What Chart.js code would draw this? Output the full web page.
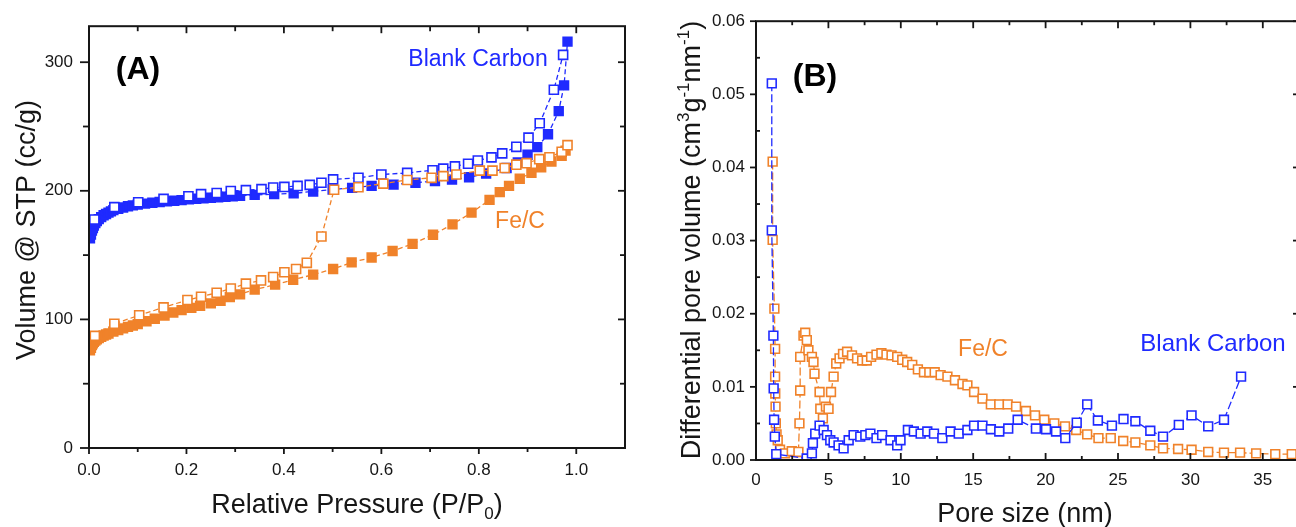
<!DOCTYPE html>
<html>
<head>
<meta charset="utf-8">
<script src="https://cdn.jsdelivr.net/npm/chart.js@4.4.1/dist/chart.umd.min.js"></script>
<style>
  html, body { margin: 0; padding: 0; background: #fff; overflow: hidden; width: 1296px; height: 527px; }
  #wrapA { position: absolute; left: 0; top: 0; width: 650px; height: 527px; }
  #wrapB { position: absolute; left: 650px; top: 0; width: 660px; height: 527px; }
</style>
</head>
<body>
<div id="wrapA"><canvas id="isotherm" width="650" height="527"></canvas></div>
<div id="wrapB"><canvas id="poreDist" width="660" height="527"></canvas></div>
<script>
// ---------- (A) N2 sorption isotherms ----------
const pressureBlankAds = [0.002,0.004,0.006,0.008,0.010,0.013,0.016,0.020,0.025,0.030,0.035,0.040,0.045,0.050,0.060,0.070,0.080,0.090,0.100,0.115,0.130,0.145,0.160,0.175,0.190,0.205,0.220,0.235,0.250,0.265,0.280,0.295,0.310,0.340,0.380,0.420,0.460,0.500,0.540,0.580,0.625,0.670,0.710,0.745,0.780,0.815,0.857,0.880,0.900,0.920,0.942,0.964,0.975,0.982];
const volumeBlankAds   = [163,166,169,171,173,175,176.5,178,179.5,181,182,183,184,185,186,187,188,188.7,189.3,190,190.7,191.3,191.8,192.3,192.8,193.3,193.8,194.2,194.6,195,195.4,195.8,196.2,196.8,197.4,198,199.5,201,202.3,203.8,204.8,206.3,207.5,208.7,210.5,213.5,217.7,222,228,234,244,262,282,316];

const pressureBlankDes = [0.011,0.052,0.101,0.153,0.204,0.230,0.262,0.291,0.322,0.354,0.378,0.401,0.428,0.453,0.477,0.501,0.553,0.600,0.653,0.705,0.727,0.751,0.778,0.798,0.826,0.848,0.877,0.902,0.925,0.954,0.973];
const volumeBlankDes   = [177.7,187.3,191.1,193.7,195.7,197.4,198.3,199.8,200.5,201.3,202.5,203,203.8,204.6,206.3,208.9,210.1,212.7,213.9,216,217.2,219,221,223.6,226,229.1,234.2,241.3,252.5,278.6,305.7];

const pressureFeAds = [0.002,0.004,0.006,0.008,0.010,0.013,0.016,0.020,0.025,0.030,0.035,0.040,0.050,0.060,0.070,0.080,0.090,0.100,0.118,0.135,0.155,0.173,0.190,0.210,0.228,0.250,0.270,0.289,0.310,0.340,0.382,0.419,0.460,0.501,0.539,0.580,0.623,0.664,0.706,0.746,0.785,0.822,0.843,0.862,0.884,0.908,0.928,0.949,0.970,0.978];
const volumeFeAds   = [76,78,80,81.5,82.5,83.5,84.5,85.5,86.5,87.5,88.3,89,90.5,91.8,93,94.2,95.3,96.3,98.6,100.5,103,105.4,107.2,109,110.5,112.5,114.5,117.3,119.5,123.2,127,130.8,134.8,139.2,144.3,148.1,153.2,158.7,165.8,173.9,183,192.9,199,203.8,209.4,214,218.3,222.8,227.3,231.2];

const pressureFeDes = [0.012,0.052,0.103,0.153,0.202,0.230,0.262,0.291,0.322,0.353,0.378,0.401,0.425,0.447,0.477,0.503,0.553,0.604,0.653,0.703,0.727,0.754,0.802,0.828,0.853,0.877,0.898,0.924,0.945,0.970,0.982];
const volumeFeDes   = [87.2,96.6,103.2,109.3,115.1,117.6,120.7,124,127.8,130.3,132.9,136.7,139.2,144,164.5,200.8,202.8,205.6,208.4,210.1,211.4,212.7,215.7,215.7,217.7,220.3,221.5,224.6,226.1,230.4,235.5];

const pressureTicks = [0, 0.2, 0.4, 0.6, 0.8, 1.0];
const pressureMinor = [0.1, 0.3, 0.5, 0.7, 0.9];
const volumeTicks   = [0, 100, 200, 300];
const volumeMinor   = [50, 150, 250];

// ---------- (B) pore size distributions ----------
const poreBlank = [1.09,1.09,1.2,1.22,1.25,1.3,1.4,3.5,3.86,3.93,4.09,4.39,4.67,4.9,5.13,5.36,5.7,6.05,6.4,6.74,7.2,7.55,7.9,8.32,8.71,9.29,9.75,9.98,10.49,10.9,11.37,11.83,12.29,12.87,13.44,14.0,14.6,15.06,15.64,16.22,16.8,17.42,18.07,19.33,20.03,20.72,21.36,22.15,22.87,23.61,24.58,25.38,26.2,27.23,28.11,29.2,30.08,31.23,32.32,33.5];
const dvBlank   = [0.0515,0.0314,0.0170,0.0098,0.0055,0.0032,0.0008,0.0002,0.0009,0.0023,0.0036,0.0047,0.0041,0.0034,0.0027,0.0024,0.0020,0.0016,0.0027,0.0034,0.0032,0.0034,0.0036,0.0030,0.0034,0.0027,0.0020,0.0027,0.0041,0.0039,0.0036,0.0039,0.0036,0.0030,0.0039,0.0036,0.0041,0.0047,0.0047,0.0042,0.0039,0.0043,0.0055,0.0043,0.0042,0.0039,0.0030,0.0051,0.0076,0.0054,0.0047,0.0056,0.0053,0.0040,0.0032,0.0048,0.0061,0.0046,0.0055,0.0114];

const poreFe = [1.15,1.15,1.27,1.32,1.32,1.33,1.35,1.37,1.42,1.5,1.66,2.0,2.47,2.93,3.0,3.05,3.05,3.28,3.4,3.51,3.62,3.86,3.97,4.04,4.39,4.44,4.62,4.83,5.01,5.18,5.36,5.54,5.77,6.01,6.29,6.63,6.98,7.33,7.65,7.95,8.32,8.66,9.01,9.36,9.75,10.1,10.44,10.79,11.18,11.6,11.97,12.34,12.75,13.22,13.74,14.26,14.6,15.06,15.64,16.22,16.8,17.38,17.96,18.64,19.27,19.91,20.6,21.34,22.11,22.87,23.65,24.5,25.36,26.2,27.23,28.11,29.15,30.08,31.23,32.32,33.43,34.54,35.86,37.0];
const dvFe   = [0.0408,0.0301,0.0207,0.0152,0.0114,0.0091,0.0073,0.0050,0.0035,0.0027,0.0014,0.0009,0.0012,0.0011,0.0050,0.0095,0.0141,0.0170,0.0174,0.0164,0.0150,0.0141,0.0134,0.0118,0.0093,0.0070,0.0057,0.0073,0.0070,0.0093,0.0114,0.0132,0.0139,0.0145,0.0148,0.0143,0.0139,0.0136,0.0136,0.0141,0.0144,0.0146,0.0144,0.0143,0.0141,0.0137,0.0134,0.0130,0.0124,0.0120,0.0120,0.0120,0.0116,0.0114,0.0109,0.0104,0.0102,0.0093,0.0084,0.0076,0.0076,0.0076,0.0073,0.0067,0.0061,0.0055,0.0050,0.0046,0.0041,0.0035,0.0030,0.0030,0.0026,0.0024,0.0020,0.0016,0.0015,0.0014,0.0011,0.0010,0.0010,0.0009,0.0008,0.0008];

const poreTicks = [0, 5, 10, 15, 20, 25, 30, 35];
const poreMinor = [2.5, 7.5, 12.5, 17.5, 22.5, 27.5, 32.5];
const dvTicks   = [0, 0.01, 0.02, 0.03, 0.04, 0.05, 0.06];
const dvMinor   = [0.005, 0.015, 0.025, 0.035, 0.045, 0.055];

// ---------- styling ----------
const BLUE = '#1f2aff';
const ORANGE = '#f0822a';
const INK = '#161616';
const FONT = '"Liberation Sans", Arial, Helvetica, sans-serif';

const pts = (xs, ys) => xs.map((x, i) => ({ x, y: ys[i] }));

function series(label, xs, ys, color, filled, dash, radius) {
  return {
    label,
    data: pts(xs, ys),
    showLine: true,
    borderColor: color,
    borderWidth: 1.3,
    borderDash: dash,
    pointStyle: 'rect',
    pointRadius: radius,
    pointBorderWidth: 1.6,
    pointBorderColor: color,
    pointBackgroundColor: filled ? color : '#ffffff',
    tension: 0
  };
}

// rich text: array of {t, sub, sup, bold}, centred on (x, y) baseline, optionally rotated
function drawRich(ctx, parts, x, y, size, rotated, color) {
  ctx.save();
  ctx.translate(x, y);
  if (rotated) ctx.rotate(-Math.PI / 2);
  ctx.fillStyle = color || INK;
  ctx.textBaseline = 'alphabetic';
  ctx.textAlign = 'left';
  const fontOf = p => `${p.bold ? 'bold ' : ''}${(p.sub || p.sup) ? Math.round(size * 0.62) : size}px ${FONT}`;
  const widths = parts.map(p => { ctx.font = fontOf(p); return ctx.measureText(p.t).width; });
  let cx = -widths.reduce((a, b) => a + b, 0) / 2;
  parts.forEach((p, i) => {
    ctx.font = fontOf(p);
    const dy = p.sub ? size * 0.22 : p.sup ? -size * 0.4 : 0;
    ctx.fillText(p.t, cx, dy);
    cx += widths[i];
  });
  ctx.restore();
}

// box frame with major/minor tick marks on all four sides
function framePlugin(spec) {
  return {
    id: 'frame',
    afterDatasetsDraw(chart) {
      const { ctx, chartArea: a } = chart;
      const xs = chart.scales.x, ys = chart.scales.y;
      ctx.save();
      ctx.strokeStyle = INK;
      ctx.lineWidth = 2;
      ctx.strokeRect(a.left, a.top, a.right - a.left, a.bottom - a.top);
      ctx.lineWidth = 1.8;
      const line = (x0, y0, x1, y1) => { ctx.beginPath(); ctx.moveTo(x0, y0); ctx.lineTo(x1, y1); ctx.stroke(); };
      const marks = (side, vals, len, out) => {
        const sign = out ? 1 : -1;
        vals.forEach(v => {
          if (side === 'left' || side === 'right') {
            const p = ys.getPixelForValue(v);
            if (side === 'left') line(a.left, p, a.left - sign * len, p);
            else line(a.right, p, a.right + sign * len, p);
          } else {
            const p = xs.getPixelForValue(v);
            if (side === 'bottom') line(p, a.bottom, p, a.bottom + sign * len);
            else line(p, a.top, p, a.top - sign * len);
          }
        });
      };
      Object.entries(spec.sides).forEach(([side, s]) => {
        const vertical = side === 'left' || side === 'right';
        const major = vertical ? spec.yMajor : spec.xMajor;
        const minor = vertical ? spec.yMinor : spec.xMinor;
        marks(side, major, s.major, s.out);
        marks(side, minor, s.minor, s.minorOut !== undefined ? s.minorOut : s.out);
      });
      ctx.restore();
    }
  };
}

function textPlugin(drawFn) {
  return { id: 'annotText', afterDraw(chart) { drawFn(chart.ctx); } };
}

function axisScale(min, max, tickVals, fmt, padding, fitFn) {
  return {
    type: 'linear',
    min, max,
    afterBuildTicks: s => { s.ticks = tickVals.map(v => ({ value: v })); },
    afterFit: fitFn,
    grid: { display: false, drawTicks: false },
    border: { display: false },
    ticks: { padding, color: INK, font: { family: FONT, size: 17 }, callback: fmt }
  };
}

const baseOptions = {
  responsive: false,
  animation: false,
  events: [],
  plugins: { legend: { display: false }, tooltip: { enabled: false } }
};

// ----- chart A -----
new Chart(document.getElementById('isotherm'), {
  type: 'scatter',
  data: {
    datasets: [
      series('Fe/C desorption', pressureFeDes, volumeFeDes, ORANGE, false, [5, 3], 6.4),
      series('Fe/C adsorption', pressureFeAds, volumeFeAds, ORANGE, true, [5, 3], 6.2),
      series('Blank Carbon desorption', pressureBlankDes, volumeBlankDes, BLUE, false, [5, 3], 6.4),
      series('Blank Carbon adsorption', pressureBlankAds, volumeBlankAds, BLUE, true, [5, 3], 6.2)
    ]
  },
  options: {
    ...baseOptions,
    layout: { padding: { left: 0, top: 16, right: 25, bottom: 0 } },
    scales: {
      x: axisScale(0, 1.1, pressureTicks, v => v.toFixed(1), 12, s => { s.height = 79; }),
      y: axisScale(0, 328, volumeTicks, v => String(v), 16, s => { s.width = 89; })
    }
  },
  plugins: [
    framePlugin({
      xMajor: pressureTicks, xMinor: pressureMinor, yMajor: volumeTicks, yMinor: volumeMinor,
      sides: {
        left: { out: true, major: 9, minor: 6 },
        right: { out: false, major: 7, minor: 5 },
        top: { out: false, major: 7, minor: 5 },
        bottom: { out: true, major: 6, minor: 4 }
      }
    }),
    textPlugin(ctx => {
      drawRich(ctx, [{ t: '(A)', bold: true }], 138, 79, 32, false, '#000');
      drawRich(ctx, [{ t: 'Blank Carbon' }], 478, 66, 23, false, BLUE);
      drawRich(ctx, [{ t: 'Fe/C' }], 520, 228, 23, false, ORANGE);
      drawRich(ctx, [{ t: 'Volume @ STP (cc/g)' }], 35, 230, 27, true);
      drawRich(ctx, [{ t: 'Relative Pressure (P/P' }, { t: '0', sub: true }, { t: ')' }], 357, 513, 27, false);
    })
  ]
});

// ----- chart B -----
new Chart(document.getElementById('poreDist'), {
  type: 'scatter',
  data: {
    datasets: [
      series('Blank Carbon', poreBlank, dvBlank, BLUE, false, [8, 3], 6.2),
      series('Fe/C', poreFe, dvFe, ORANGE, false, [8, 3], 6.2)
    ]
  },
  options: {
    ...baseOptions,
    layout: { padding: { left: 0, top: 21, right: 11, bottom: 0 } },
    scales: {
      x: axisScale(0, 37.5, poreTicks, v => String(v), 10, s => { s.height = 67; }),
      y: axisScale(0, 0.06, dvTicks, v => v.toFixed(2), 11, s => { s.width = 106; })
    }
  },
  plugins: [
    framePlugin({
      xMajor: poreTicks, xMinor: poreMinor, yMajor: dvTicks, yMinor: dvMinor,
      sides: {
        left: { out: true, major: 6, minor: 4, minorOut: false },
        right: { out: false, major: 6, minor: 3 },
        top: { out: false, major: 7, minor: 4 },
        bottom: { out: false, major: 7, minor: 4 }
      }
    }),
    textPlugin(ctx => {
      drawRich(ctx, [{ t: '(B)', bold: true }], 165, 86, 32, false, '#000');
      drawRich(ctx, [{ t: 'Fe/C' }], 333, 356, 23, false, ORANGE);
      drawRich(ctx, [{ t: 'Blank Carbon' }], 563, 351, 24, false, BLUE);
      drawRich(ctx, [
        { t: 'Differential pore volume (cm' }, { t: '3', sup: true }, { t: 'g' }, { t: '-1', sup: true },
        { t: 'nm' }, { t: '-1', sup: true }, { t: ')' }
      ], 50, 240, 27, true);
      drawRich(ctx, [{ t: 'Pore size (nm)' }], 375, 522, 27, false);
    })
  ]
});
</script>
</body>
</html>
